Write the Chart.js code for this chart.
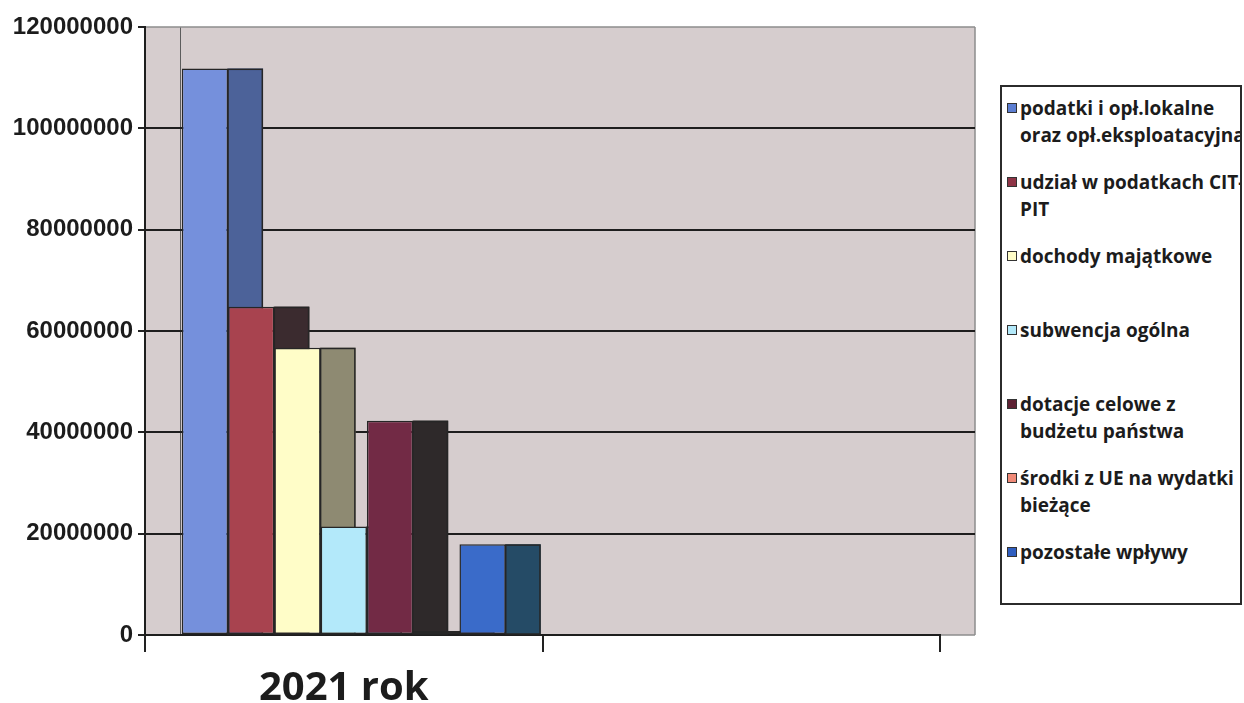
<!DOCTYPE html>
<html lang="pl">
<head>
<meta charset="utf-8">
<title>Dochody 2021</title>
<script src="https://cdn.jsdelivr.net/npm/chart.js@4/dist/chart.umd.min.js"></script>
<style>
  html, body { margin: 0; padding: 0; background: #fff; }
  #wrap { position: relative; width: 1244px; height: 703px; overflow: hidden; background: #fff; }
  #chart { position: absolute; left: 0; top: 0; }
  #legend {
    position: absolute; left: 1000px; top: 85px; width: 242px; height: 520px;
    box-sizing: border-box; border: 2px solid #2b2b2b; background: #fff;
    overflow: hidden; padding-top: 8px;
  }
  .item {
    position: relative; height: 74px; padding-left: 18px;
    font: bold 19px 'Open Sans', sans-serif; line-height: 27px;
    color: #1c1c1c; white-space: nowrap;
  }
  .sw {
    position: absolute; left: 5px; top: 8px; width: 8px; height: 8px;
    border: 1px solid #333;
  }
</style>
</head>
<body>
<div id="wrap">
  <canvas id="chart" width="1244" height="703"></canvas>
  <div id="legend"></div>
</div>
<script>
// Categories on the x axis (the second slot is left empty)
const categories = ['2021 rok', ''];

// Series names, split into the lines shown in the legend
const seriesNames = [
  ['podatki i opł.lokalne', 'oraz opł.eksploatacyjna'],
  ['udział w podatkach CIT-', 'PIT'],
  ['dochody majątkowe'],
  ['subwencja ogólna'],
  ['dotacje celowe z', 'budżetu państwa'],
  ['środki z UE na wydatki', 'bieżące'],
  ['pozostałe wpływy']
];

// Values (PLN) per category
const podatkiLokalne   = [111800000, null];
const udzialCitPit     = [64800000, null];
const dochodyMajatkowe = [56700000, null];
const subwencjaOgolna  = [21400000, null];
const dotacjeCelowe    = [42300000, null];
const srodkiUE         = [800000, null];
const pozostaleWplywy  = [17900000, null];

// Y axis tick values
const yTicks = [0, 20000000, 40000000, 60000000, 80000000, 100000000, 120000000];

const seriesValues = [podatkiLokalne, udzialCitPit, dochodyMajatkowe, subwencjaOgolna,
                      dotacjeCelowe, srodkiUE, pozostaleWplywy];

// Front faces, side faces and legend swatches
const frontColors  = ['#7590DC', '#A8434F', '#FFFDC8', '#B3E9FA', '#722A45', '#E07A66', '#3A6BC9'];
const sideColors   = ['#4C6299', '#3B2B2F', '#8E8A72', '#5F8FA0', '#2E292A', '#7A4A3E', '#254B66'];
const swatchColors = ['#5C7ED2', '#8E3446', '#FFFDC8', '#B3E9FA', '#5E2234', '#F08A78', '#2F5EC0'];

const DEPTH = 35;          // horizontal depth of the 3-D walls and bar sides
const WALL = '#D6CDCE';
const EDGE = '#262626';

function seg(ctx, x1, y1, x2, y2) {
  ctx.beginPath(); ctx.moveTo(x1, y1); ctx.lineTo(x2, y2); ctx.stroke();
}

// Side wall, back wall and horizontal gridlines, plus the right-hand faces of the columns
const depthPlugin = {
  id: 'depth',
  beforeDraw(chart) {
    const { ctx, chartArea: a, scales: { y } } = chart;
    const back = a.right + DEPTH;
    ctx.save();
    ctx.fillStyle = WALL;
    ctx.fillRect(a.left, a.top, back - a.left, a.bottom - a.top);
    ctx.lineWidth = 1;
    ctx.strokeStyle = '#5c5c5c';
    seg(ctx, a.left + DEPTH + 0.5, a.top, a.left + DEPTH + 0.5, a.bottom);
    ctx.strokeStyle = '#8c8c8c';
    ctx.lineWidth = 1.5;
    seg(ctx, a.left, a.top, back, a.top);
    seg(ctx, back, a.top, back, a.bottom);
    seg(ctx, a.right, a.bottom, back, a.bottom);
    ctx.strokeStyle = '#1e1e1e';
    ctx.lineWidth = 2;
    yTicks.forEach(v => {
      if (v === y.min || v === y.max) return;
      const py = Math.round(y.getPixelForValue(v));
      seg(ctx, a.left, py, back, py);
    });
    ctx.restore();
  },
  beforeDatasetsDraw(chart) {
    const { ctx } = chart;
    ctx.save();
    ctx.lineWidth = 1.5;
    ctx.strokeStyle = EDGE;
    chart.data.datasets.forEach((ds, i) => {
      const meta = chart.getDatasetMeta(i);
      meta.data.forEach((bar, j) => {
        if (ds.data[j] == null) return;
        const { x, y, base, width } = bar.getProps(['x', 'y', 'base', 'width'], true);
        const r = x + width / 2;
        ctx.fillStyle = sideColors[i];
        ctx.fillRect(r, y, DEPTH, base - y);
        ctx.strokeRect(r, y + 0.75, DEPTH - 0.75, base - y - 0.75);
      });
    });
    ctx.restore();
  }
};

const datasets = seriesValues.map((vals, i) => ({
  label: seriesNames[i].join(' '),
  data: vals,
  backgroundColor: frontColors[i],
  borderColor: EDGE,
  borderWidth: 1.5,
  borderSkipped: false
}));

new Chart(document.getElementById('chart'), {
  type: 'bar',
  data: { labels: categories, datasets },
  plugins: [depthPlugin],
  options: {
    responsive: false,
    animation: false,
    devicePixelRatio: 1,
    layout: { padding: { top: 27, right: 304, left: 0, bottom: 0 } },
    datasets: { bar: { categoryPercentage: 0.815, barPercentage: 1.0 } },
    plugins: { legend: { display: false }, tooltip: { enabled: false } },
    scales: {
      x: {
        offset: true,
        grid: { drawOnChartArea: false, drawTicks: true, tickLength: 17, color: '#222', lineWidth: 2, offset: true },
        border: { display: true, color: '#1e1e1e', width: 2 },
        ticks: {
          color: '#1c1c1c', padding: 13, maxRotation: 0, autoSkip: false,
          font: { family: "'Open Sans', sans-serif", weight: 'bold', size: 40 }
        },
        afterFit(s) { s.height = 68; }
      },
      y: {
        min: 0,
        max: 120000000,
        afterBuildTicks(s) { s.ticks = yTicks.map(v => ({ value: v })); },
        grid: { drawOnChartArea: false, drawTicks: true, tickLength: 7, color: '#222', lineWidth: 2 },
        border: { display: true, color: '#1e1e1e', width: 2 },
        ticks: {
          color: '#1c1c1c', padding: 5,
          font: { family: "'Liberation Sans', Arial, sans-serif", weight: 'bold', size: 24 },
          callback: v => String(v)
        },
        afterFit(s) { s.width = 145; }
      }
    }
  }
});

// Legend box with wrapped series names
const legend = document.getElementById('legend');
seriesNames.forEach((lines, i) => {
  const item = document.createElement('div');
  item.className = 'item';
  const sw = document.createElement('span');
  sw.className = 'sw';
  sw.style.background = swatchColors[i];
  item.appendChild(sw);
  lines.forEach((t, k) => {
    if (k) item.appendChild(document.createElement('br'));
    item.appendChild(document.createTextNode(t));
  });
  legend.appendChild(item);
});
</script>
</body>
</html>
